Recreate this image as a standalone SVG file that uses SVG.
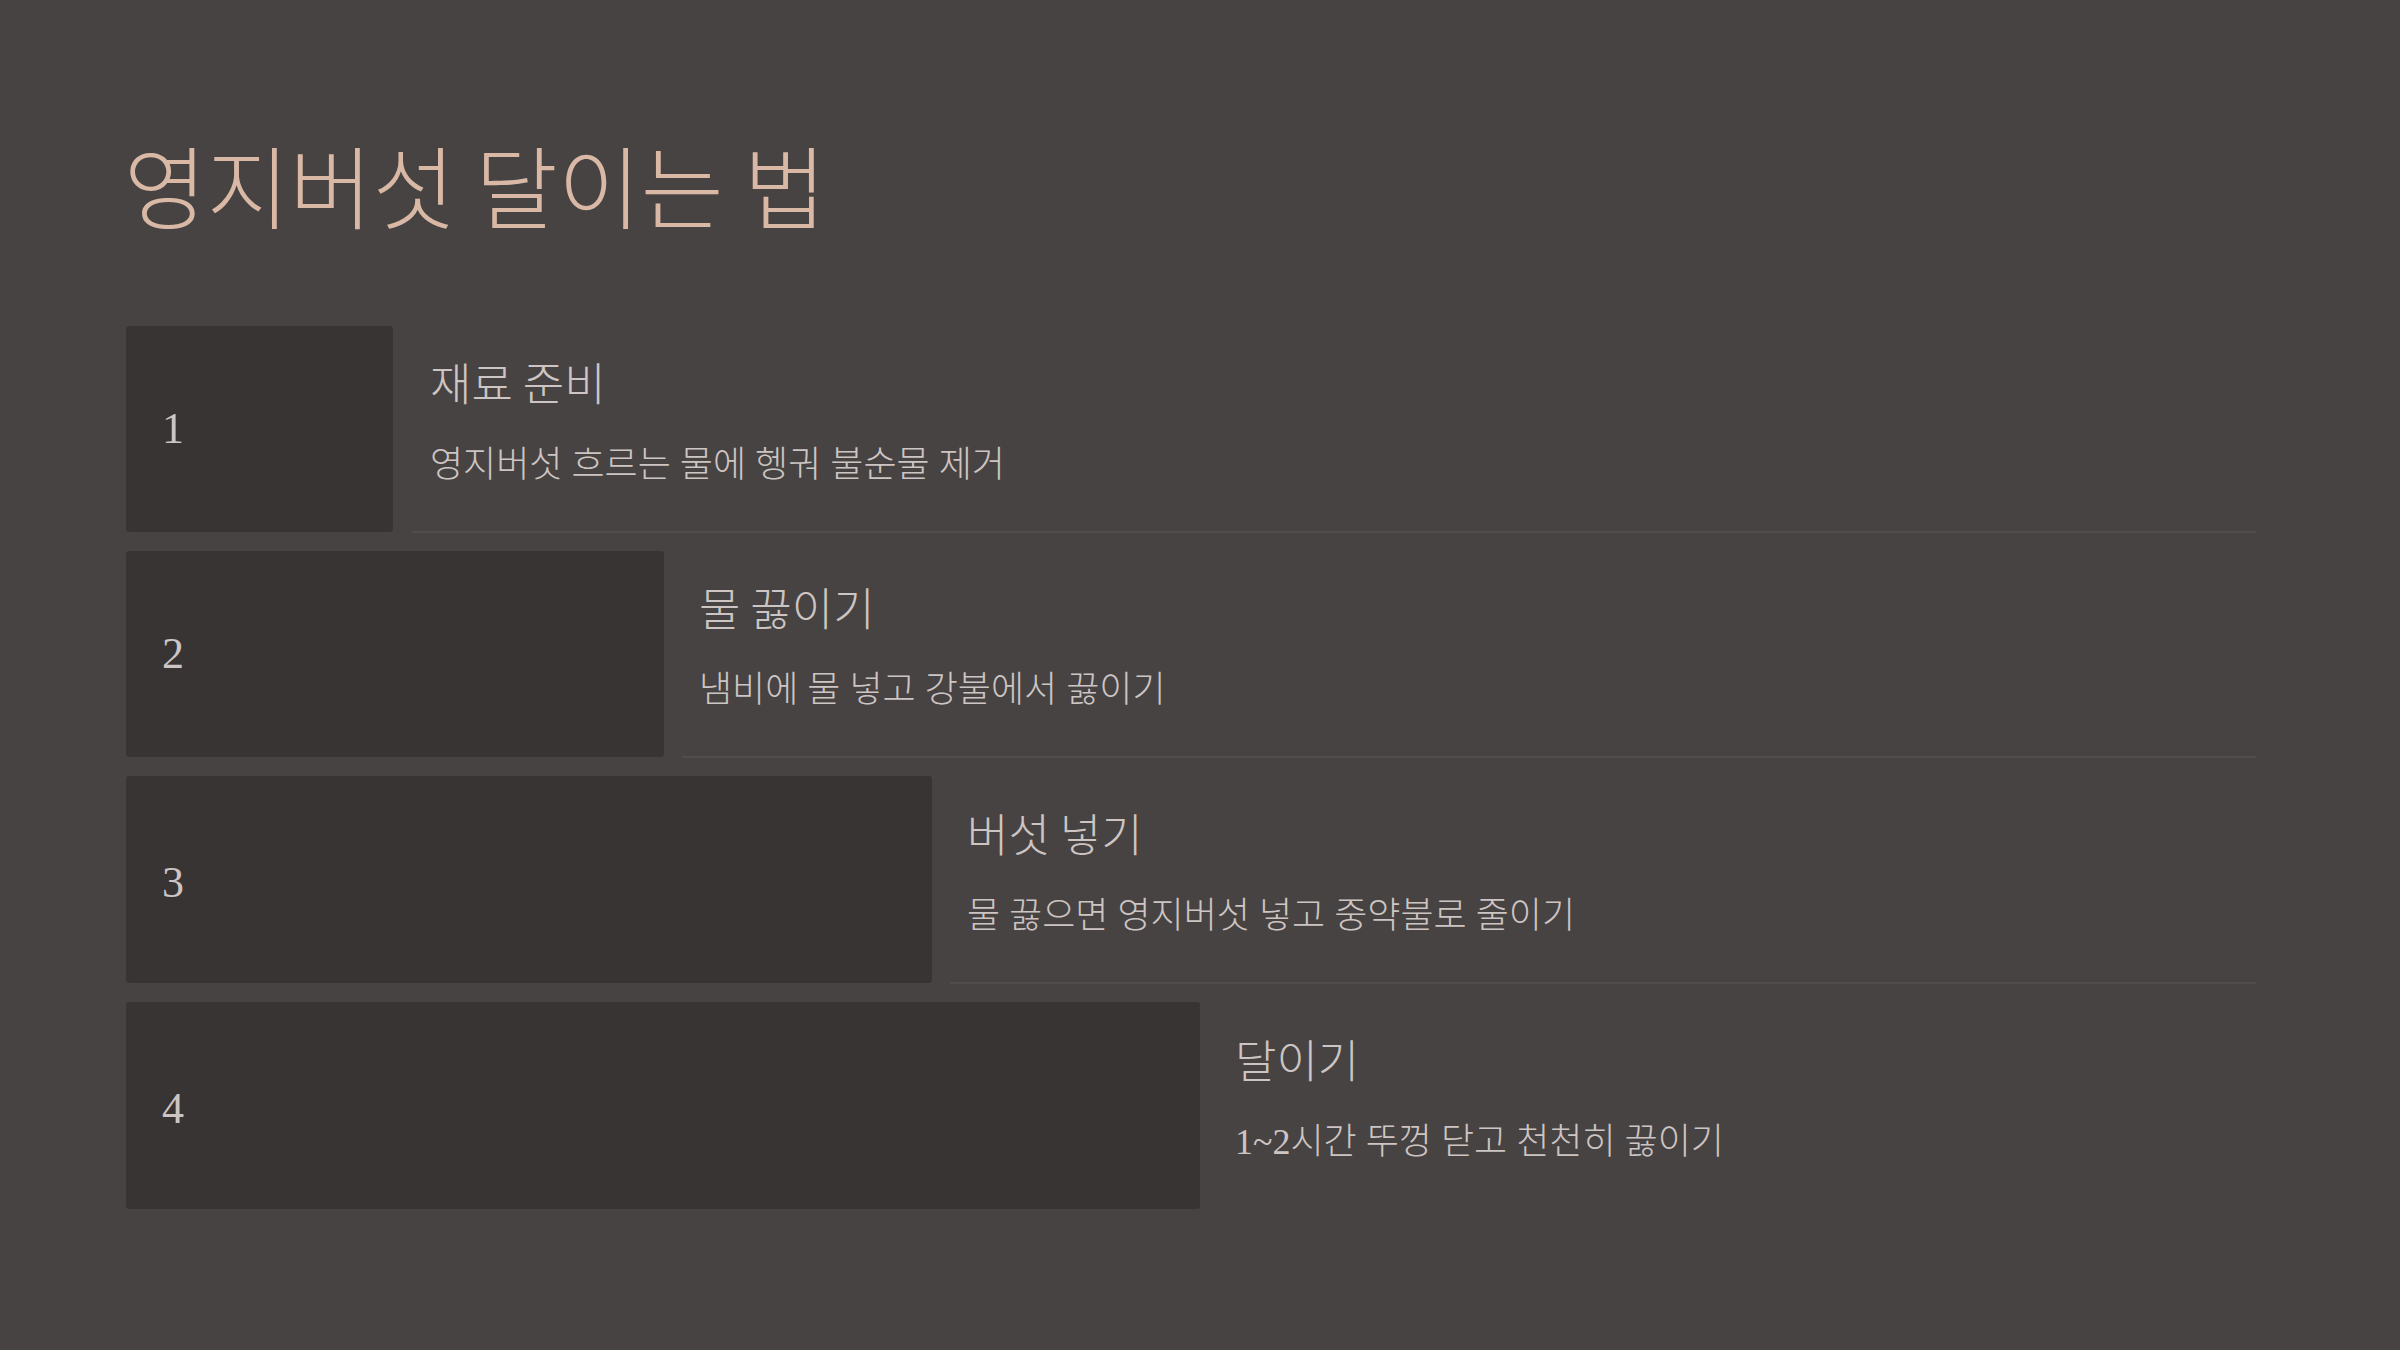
<svg xmlns="http://www.w3.org/2000/svg" width="2400" height="1350" viewBox="0 0 2400 1350">
<style>
.bg{fill:#474342}
.box{fill:#383433}
.title{font-family:"Noto Sans CJK KR","Noto Sans",sans-serif;font-size:90px;font-weight:300;fill:#d9b9a6}
.num{font-family:"Liberation Serif","Noto Sans CJK KR",serif;font-size:44px;fill:#cdc5c3}
.head{font-family:"Noto Sans CJK KR","Noto Sans",sans-serif;font-size:45px;font-weight:300;fill:#cdc5c3}
.desc{font-family:"Liberation Serif","Noto Sans CJK KR",sans-serif;font-size:36px;font-weight:300;fill:#cdc5c3}
.sep{stroke:#524d4c;stroke-width:2}
</style>
<rect class="bg" x="0" y="0" width="2400" height="1350"/>
<text id="title" class="title" x="124" y="222">영지버섯 달이는 법</text>
<g id="connectors">
<line class="sep" x1="412" y1="532" x2="2256" y2="532"/>
<line class="sep" x1="682" y1="757" x2="2256" y2="757"/>
<line class="sep" x1="950" y1="983" x2="2256" y2="983"/>
</g>
<g id="step1">
<rect class="box" x="126" y="326" width="267" height="206" rx="3"/>
<text class="num" x="162" y="443">1</text>
<text class="head" x="430" y="401">재료 준비</text>
<text class="desc" x="430" y="477">영지버섯 흐르는 물에 헹궈 불순물 제거</text>
</g>
<g id="step2">
<rect class="box" x="126" y="551" width="538" height="206" rx="3"/>
<text class="num" x="162" y="668">2</text>
<text class="head" x="699" y="626">물 끓이기</text>
<text class="desc" x="699" y="702">냄비에 물 넣고 강불에서 끓이기</text>
</g>
<g id="step3">
<rect class="box" x="126" y="776" width="806" height="207" rx="3"/>
<text class="num" x="162" y="897">3</text>
<text class="head" x="967" y="852">버섯 넣기</text>
<text class="desc" x="967" y="928">물 끓으면 영지버섯 넣고 중약불로 줄이기</text>
</g>
<g id="step4">
<rect class="box" x="126" y="1002" width="1074" height="207" rx="3"/>
<text class="num" x="162" y="1123">4</text>
<text class="head" x="1235" y="1078">달이기</text>
<text class="desc" x="1235" y="1154">1~2시간 뚜껑 닫고 천천히 끓이기</text>
</g>
</svg>
